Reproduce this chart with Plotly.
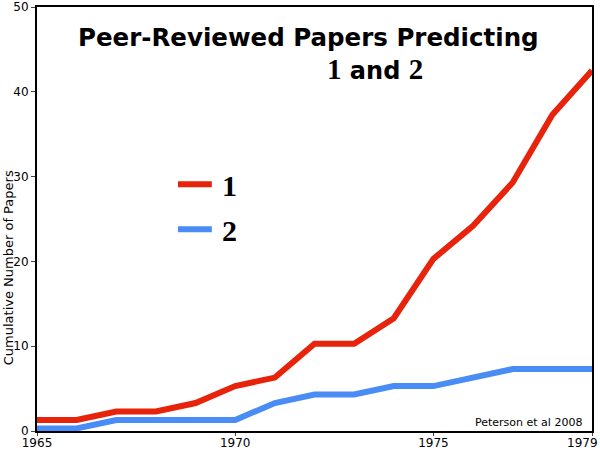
import plotly.graph_objects as go

# data
years = list(range(1965, 1980))
series1 = [1.3, 1.3, 2.3, 2.3, 3.3, 5.3, 6.3, 10.3, 10.3, 13.3, 20.3, 24.2, 29.3, 37.3, 42.5]
series2 = [0.3, 0.3, 1.3, 1.3, 1.3, 1.3, 3.3, 4.3, 4.3, 5.3, 5.3, 6.3, 7.3, 7.3, 7.3]
names = ["1", "2"]
x_ticks = [1965, 1970, 1975, 1979]
x_labels = ["1965", "1970", "1975", "1979"]
y_ticks = [0, 10, 20, 30, 40, 50]

RED = "#e8230c"
BLUE = "#4a8cf5"
colors = [RED, BLUE]

serif = "Liberation Serif"
sans = "DejaVu Sans"

fig = go.Figure()
for name, vals, col in zip(names, [series1, series2], colors):
    fig.add_trace(go.Scatter(x=years, y=vals, mode="lines", name=name,
                             line=dict(color=col, width=6)))

# hand-drawn style legend inside the plot (long line + big serif label)
for i, (name, col) in enumerate(zip(names, colors)):
    ly = 0.582 - i * 0.106
    fig.add_shape(type="line", xref="paper", yref="paper", x0=0.254, x1=0.315, y0=ly, y1=ly,
                  line=dict(color=col, width=6))
    fig.add_annotation(x=0.33, y=ly, xref="paper", yref="paper", showarrow=False,
                       xanchor="left", yanchor="middle", yshift=-1, text=f"<b>{name}</b>",
                       font=dict(family=serif, size=30, color="black"))

fig.add_annotation(x=0.49, y=0.966, xref="paper", yref="paper", showarrow=False,
                   text="<b>Peer-Reviewed Papers Predicting</b>",
                   font=dict(family=sans, size=24.5, color="black"))
fig.add_annotation(x=0.609, y=0.897, xref="paper", yref="paper", showarrow=False,
                   text=f"<b><span style='font-family:{serif};font-size:29px'>{names[0]}</span> and "
                        f"<span style='font-family:{serif};font-size:29px'>{names[1]}</span></b>",
                   font=dict(family=sans, size=24, color="black"))
fig.add_annotation(x=0, y=0.385, xref="paper", yref="paper", showarrow=False,
                   xanchor="left", xshift=-38,
                   text="Cumulative Number of Papers", textangle=-90,
                   font=dict(family=sans, size=13, color="black"))
fig.add_annotation(x=0.985, y=0.0, xref="paper", yref="paper", showarrow=False,
                   xanchor="right", yanchor="bottom", text="Peterson et al 2008",
                   font=dict(family=sans, size=11, color="black"))
# last x label sits flush with the right edge of the picture
fig.add_annotation(x=x_ticks[-1], y=0, xref="x", yref="paper", showarrow=False,
                   xanchor="right", yanchor="top", xshift=8, yshift=-3,
                   text=x_labels[-1], font=dict(family=sans, size=12, color="black"))

fig.update_layout(
    width=600, height=450,
    margin=dict(l=37, r=8, t=7, b=19),
    paper_bgcolor="white", plot_bgcolor="white",
    showlegend=False,
    xaxis=dict(range=[1965, 1979], tickvals=x_ticks, ticktext=x_labels[:-1] + [""],
               ticks="outside", ticklen=3, automargin=False, ticklabelstandoff=-3,
               ticklabeloverflow="allow",
               showline=True, linecolor="black", linewidth=2, mirror=True,
               showgrid=False, zeroline=False,
               tickfont=dict(family=sans, size=12, color="black")),
    yaxis=dict(range=[0, 50], tickvals=y_ticks, ticks="outside", ticklen=4, automargin=False,
               ticklabeloverflow="allow",
               showline=True, linecolor="black", linewidth=2, mirror=True,
               showgrid=False, zeroline=False,
               tickfont=dict(family=sans, size=12, color="black")),
)

# drop the browser's default body margin so the 600x450 figure fills the window
fig.write_html("out.html", config={"displayModeBar": False},
               post_script="document.body.style.margin='0px';")
